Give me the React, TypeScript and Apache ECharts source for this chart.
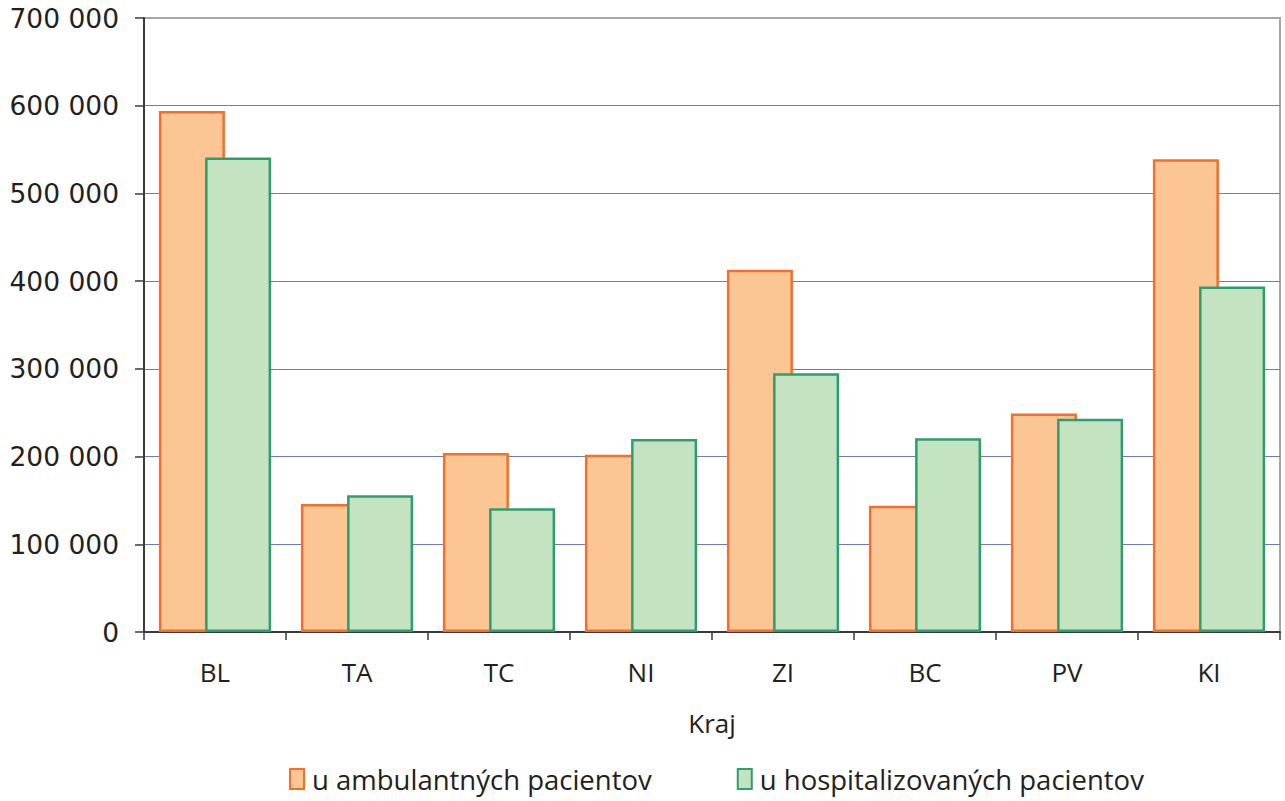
import React, { useEffect, useRef } from "react";
import * as echarts from "echarts";

const categories = ["BL", "TA", "TC", "NI", "ZI", "BC", "PV", "KI"];
const ambulantni = [594000, 146000, 204000, 202000, 413000, 144000, 249000, 539000];
const hospitalizovani = [541000, 156000, 141000, 220000, 295000, 221000, 243000, 394000];
const seriesNames = ["u ambulantných pacientov", "u hospitalizovaných pacientov"];
const axisName = "Kraj";

const fmt = (v: number) => String(v).replace(/\B(?=(\d{3})+(?!\d))/g, " ");

export default function App() {
  const ref = useRef<HTMLDivElement>(null);
  useEffect(() => {
    if (!ref.current) return;
    const chart = echarts.init(ref.current, null, { renderer: "svg" });
    const textColor = "#231f20";
    const blue = "#6b7bbb";
    chart.setOption({
      animation: false,
      textStyle: { fontFamily: "Open Sans" },
      grid: {
        left: 144,
        right: 5,
        top: 18,
        bottom: 169,
        show: true,
        borderColor: "#a6a6a6",
        borderWidth: 2,
        backgroundColor: "transparent",
      },
      legend: {
        top: 765,
        left: 289,
        padding: 0,
        icon: "rect",
        itemWidth: 14,
        itemHeight: 20,
        itemGap: 85,
        textStyle: { fontFamily: "Open Sans", fontSize: 27.5, color: textColor, padding: [0, 0, 0, 3] },
        data: seriesNames,
      },
      xAxis: {
        type: "category",
        data: categories,
        name: axisName,
        nameLocation: "middle",
        nameGap: 78,
        nameTextStyle: { fontFamily: "Open Sans", fontSize: 26, color: textColor },
        axisLine: { lineStyle: { color: "#3a3a3a", width: 2 } },
        axisTick: { show: true, length: 8, lineStyle: { color: "#3a3a3a", width: 1.5 } },
        axisLabel: { fontFamily: "Open Sans", fontSize: 26, color: textColor, margin: 27 },
      },
      yAxis: {
        type: "value",
        min: 0,
        max: 700000,
        interval: 100000,
        axisLine: { show: true, lineStyle: { color: "#3a3a3a", width: 2 } },
        axisTick: { show: true, length: 9, lineStyle: { color: "#3a3a3a", width: 1.5 } },
        axisLabel: {
          fontFamily: "DejaVu Sans",
          fontSize: 26.5,
          color: textColor,
          margin: 25,
          formatter: (v: number) => fmt(v),
        },
        splitLine: {
          lineStyle: {
            color: [blue, blue, blue, blue, blue, blue, blue, "#a6a6a6"],
            width: 1,
          },
        },
      },
      series: [
        {
          name: seriesNames[0],
          type: "bar",
          data: ambulantni,
          barWidth: 66,
          barGap: "-30%",
          itemStyle: { color: "#fcc594", borderColor: "#f26f2c", borderWidth: 2.5 },
        },
        {
          name: seriesNames[1],
          type: "bar",
          data: hospitalizovani,
          barWidth: 66,
          itemStyle: { color: "#c3e3c1", borderColor: "#2e9e6e", borderWidth: 2.5 },
        },
      ],
    });
    return () => chart.dispose();
  }, []);
  return (
    <div
      ref={ref}
      style={{ position: "fixed", left: 0, top: 0, width: 1285, height: 801, background: "#fff" }}
    />
  );
}
